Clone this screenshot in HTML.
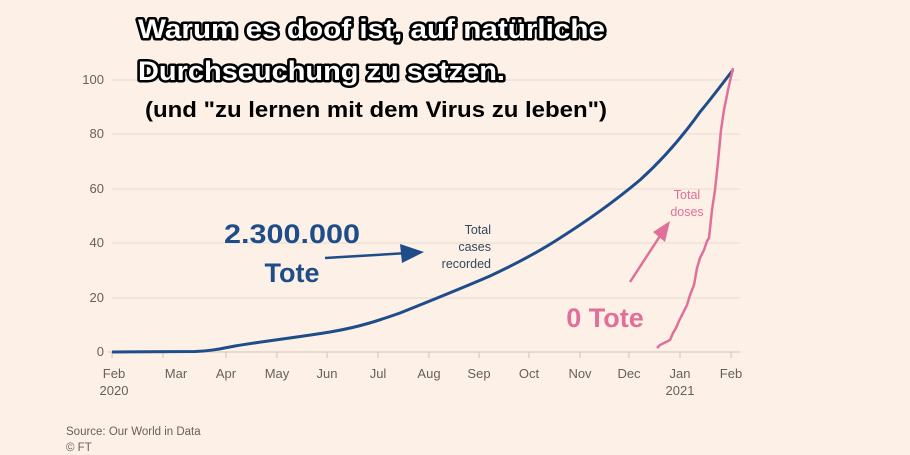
<!DOCTYPE html>
<html><head><meta charset="utf-8"><style>
html,body{margin:0;padding:0;background:#fdf1e7;}
svg{display:block;font-family:"Liberation Sans",sans-serif;}
</style></head><body>
<svg width="910" height="455" viewBox="0 0 910 455">
<rect width="910" height="455" fill="#fdf1e7"/>
<g stroke="#e6dbd2" stroke-width="1">
<line x1="112" x2="740" y1="80" y2="80"/><line x1="112" x2="740" y1="134" y2="134"/>
<line x1="112" x2="740" y1="189" y2="189"/><line x1="112" x2="740" y1="243" y2="243"/>
<line x1="112" x2="740" y1="298" y2="298"/>
</g>
<line x1="108" x2="740" y1="352" y2="352" stroke="#cfc4bb"/>
<g stroke="#cfc4bb">
<line x1="112" x2="112" y1="352" y2="358"/><line x1="163" x2="163" y1="352" y2="358"/>
<line x1="226" x2="226" y1="352" y2="358"/><line x1="277" x2="277" y1="352" y2="358"/>
<line x1="327" x2="327" y1="352" y2="358"/><line x1="378" x2="378" y1="352" y2="358"/>
<line x1="429" x2="429" y1="352" y2="358"/><line x1="479" x2="479" y1="352" y2="358"/>
<line x1="529" x2="529" y1="352" y2="358"/><line x1="580" x2="580" y1="352" y2="358"/>
<line x1="629" x2="629" y1="352" y2="358"/><line x1="680" x2="680" y1="352" y2="358"/>
<line x1="731" x2="731" y1="352" y2="358"/>
</g>
<g fill="#66605c" font-size="13" text-anchor="end">
<text x="104" y="84">100</text><text x="104" y="138">80</text><text x="104" y="193">60</text>
<text x="104" y="247">40</text><text x="104" y="302">20</text><text x="104" y="356">0</text>
</g>
<g fill="#66605c" font-size="13" text-anchor="middle">
<text x="114" y="378">Feb</text><text x="114" y="395">2020</text>
<text x="176" y="378">Mar</text><text x="226" y="378">Apr</text><text x="277" y="378">May</text>
<text x="327" y="378">Jun</text><text x="378" y="378">Jul</text><text x="429" y="378">Aug</text>
<text x="479" y="378">Sep</text><text x="529" y="378">Oct</text><text x="580" y="378">Nov</text>
<text x="629" y="378">Dec</text><text x="680" y="378">Jan</text><text x="680" y="395">2021</text>
<text x="731" y="378">Feb</text>
</g>
<g fill="#66605c" font-size="11.5">
<text x="66" y="435">Source: Our World in Data</text><text x="66" y="451">© FT</text>
</g>
<path d="M112,352 L195,351.5 C210,351 220,349 235,346 C265,341 300,337 330,332 C360,327 380,320 400,313 C430,301 460,289 490,276 C520,262 540,251 560,238 C590,219 615,201 640,180 C660,162 680,140 700,112 C715,94 725,80 733,70" fill="none" stroke="#1e4d8a" stroke-width="3"/>
<path d="M657,348 L660,345 L666,342 L670,340 L673,333 L676,328 L679,321 L683,313 L687,305 L690,295 L694,285 L697,268 L700,258 L704,250 L707,241 L709,238 L712,210 L715,190 L718,162 L721,130 L724,110 L728,90 L733,68" fill="none" stroke="#e0709a" stroke-width="2.5"/>
<g fill="#33475e" font-size="12.5" text-anchor="end">
<text x="491" y="234">Total</text><text x="491" y="251">cases</text><text x="491" y="268">recorded</text>
</g>
<g fill="#e0709a" font-size="12.5" text-anchor="middle">
<text x="687" y="199">Total</text><text x="687" y="216">doses</text>
</g>
<text x="224" y="243" font-size="27" font-weight="bold" fill="#1e4d8a" textLength="136" lengthAdjust="spacingAndGlyphs">2.300.000</text>
<text x="292" y="282" font-size="27" font-weight="bold" fill="#1e4d8a" text-anchor="middle">Tote</text>
<line x1="325" y1="258" x2="408" y2="253" stroke="#1e4d8a" stroke-width="2.5"/>
<polygon points="400,244 424,252 402,263" fill="#1e4d8a"/>
<text x="605" y="327" font-size="27" font-weight="bold" fill="#e0709a" text-anchor="middle">0 Tote</text>
<line x1="630" y1="282" x2="660" y2="236" stroke="#e0709a" stroke-width="2.5"/>
<polygon points="653,232 670,221 665,242" fill="#e0709a"/>
<g font-size="27" font-weight="bold" fill="#fff" stroke="#000" stroke-width="5" paint-order="stroke" stroke-linejoin="round">
<text x="138" y="38" textLength="467" lengthAdjust="spacingAndGlyphs">Warum es doof ist, auf natürliche</text>
<text x="138" y="80" textLength="367" lengthAdjust="spacingAndGlyphs">Durchseuchung zu setzen.</text>
</g>
<text x="145" y="117" font-size="22" font-weight="bold" fill="#000" textLength="462" lengthAdjust="spacingAndGlyphs">(und "zu lernen mit dem Virus zu leben")</text>
</svg>
</body></html>
